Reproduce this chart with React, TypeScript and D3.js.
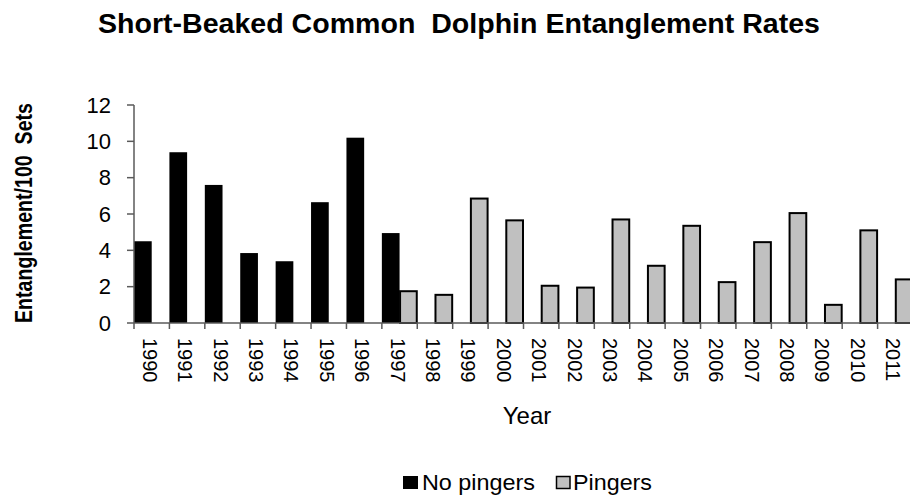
import React from "react";
import * as d3 from "d3";

const years = ["1990","1991","1992","1993","1994","1995","1996","1997","1998","1999","2000","2001","2002","2003","2004","2005","2006","2007","2008","2009","2010","2011"];
const noPingers: (number | null)[] = [4.5, 9.4, 7.6, 3.85, 3.4, 6.65, 10.2, 4.95, null, null, null, null, null, null, null, null, null, null, null, null, null, null];
const pingers: (number | null)[] = [null, null, null, null, null, null, null, 1.75, 1.55, 6.85, 5.65, 2.05, 1.95, 5.7, 3.15, 5.35, 2.25, 4.45, 6.05, 1.0, 5.1, 2.4];
const yTicks = [0, 2, 4, 6, 8, 10, 12];

const W = 910, H = 498;
const left = 134, right = 913, top = 105, bottom = 323;

export default function App() {
  const x = d3.scaleBand<string>().domain(years).range([left, right]).paddingInner(0).paddingOuter(0);
  const inner = d3.scaleBand<string>().domain(["a", "b"]).range([0, x.bandwidth()]).padding(0);
  const y = d3.scaleLinear().domain([0, 12]).range([bottom, top]);
  const font = "Arial, 'Liberation Sans', sans-serif";
  const axisColor = "#5a5a5a";
  return (
    <svg width={W} height={H} style={{ position: "absolute", left: 0, top: 0 }} fontFamily={font}>
      <rect width={W} height={H} fill="#fff" />
      <text x={98} y={33} fontWeight="bold" fontSize={27} textLength={722} lengthAdjust="spacingAndGlyphs" style={{ whiteSpace: "pre" }}>
        {"Short-Beaked Common  Dolphin Entanglement Rates"}
      </text>
      {/* bars */}
      {years.map((yr, i) => {
        const v = noPingers[i];
        if (v == null) return null;
        return <rect key={"n" + yr} x={x(yr)! + inner("a")!} y={y(v)} width={inner.bandwidth()} height={y(0) - y(v)} fill="#000" />;
      })}
      {years.map((yr, i) => {
        const v = pingers[i];
        if (v == null) return null;
        return <rect key={"p" + yr} x={x(yr)! + inner("b")! + 0.5} y={y(v)} width={inner.bandwidth() - 1} height={y(0) - y(v)} fill="#c0c0c0" stroke="#000" strokeWidth={2} />;
      })}
      {/* y axis */}
      <line x1={left} x2={left} y1={top} y2={bottom} stroke={axisColor} strokeWidth={1.5} />
      {yTicks.map(t => (
        <g key={t}>
          <line x1={left - 7} x2={left} y1={y(t)} y2={y(t)} stroke={axisColor} strokeWidth={1.5} />
          <text x={111} y={y(t)} dy="0.35em" textAnchor="end" fontSize={22}>{t}</text>
        </g>
      ))}
      {/* x axis */}
      <line x1={left} x2={W} y1={bottom} y2={bottom} stroke={axisColor} strokeWidth={1.5} />
      {years.map(yr => (
        <line key={"t" + yr} x1={x(yr)!} x2={x(yr)!} y1={bottom} y2={bottom + 6} stroke={axisColor} strokeWidth={1.5} />
      ))}
      {years.map(yr => {
        const cx = x(yr)! + x.bandwidth() / 2 - 2;
        return (
          <text key={"l" + yr} transform={`translate(${cx},${338}) rotate(90)`} dy="0.35em" fontSize={20}>{yr}</text>
        );
      })}
      <text x={527} y={424} textAnchor="middle" fontSize={24}>Year</text>
      <text transform={`translate(32,${213}) rotate(-90)`} textAnchor="middle" fontWeight="bold" fontSize={24} textLength={220} lengthAdjust="spacingAndGlyphs" style={{ whiteSpace: "pre" }}>{"Entanglement/100  Sets"}</text>
      {/* legend */}
      <rect x={403} y={476} width={15} height={13} fill="#000" />
      <text x={422} y={490} fontSize={22} textLength={113} lengthAdjust="spacingAndGlyphs">No pingers</text>
      <rect x={556.5} y={476.5} width={13.5} height={12} fill="#c0c0c0" stroke="#000" strokeWidth={1.5} />
      <text x={573} y={490} fontSize={22} textLength={79} lengthAdjust="spacingAndGlyphs">Pingers</text>
    </svg>
  );
}
